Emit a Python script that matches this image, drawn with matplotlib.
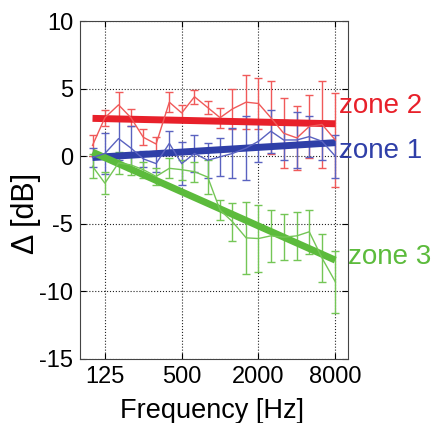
import numpy as np
import matplotlib
matplotlib.use('Agg')
from matplotlib import pyplot as plt
from matplotlib.ticker import FixedLocator, NullLocator

plt.rcParams['font.family'] = ['Liberation Sans', 'DejaVu Sans']
plt.rcParams['axes.unicode_minus'] = False

# 1/3 octave band centre frequencies
freq = [100, 125, 160, 200, 250, 315, 400, 500, 630, 800,
        1000, 1250, 1600, 2000, 2500, 3150, 4000, 5000, 6300, 8000]

# zone 1 (blue)
z1_mean = [-0.1, 0.2, 1.3, 0.6, -0.2, -0.55, 0.95, -0.55, 0.2, -0.3,
           -0.05, 0.2, 0.6, 1.1, 1.85, 1.2, 1.2, 1.45, 1.1, 0.0]
z1_err = [0.7, 1.5, 1.6, 1.6, 0.6, 0.6, 0.9, 1.6, 1.4, 1.3,
          1.4, 1.85, 2.4, 1.5, 1.6, 1.5, 2.1, 1.5, 1.4, 1.6]
# zone 2 (red)
z2_mean = [0.8, 2.85, 3.8, 2.85, 1.4, 0.9, 4.0, 3.2, 4.4, 3.6,
           2.85, 3.5, 4.0, 3.9, 2.85, 1.7, 1.35, 2.2, 2.35, 1.2]
z2_err = [0.8, 0.6, 0.95, 0.65, 0.6, 0.5, 0.75, 0.6, 0.5, 0.5,
          0.75, 1.5, 2.0, 1.9, 2.7, 2.6, 2.4, 2.3, 3.2, 3.5]
# zone 3 (green)
z3_mean = [-0.75, -2.0, -0.5, -0.65, -1.0, -1.5, -0.9, -1.0, -1.15, -1.55,
           -4.0, -4.85, -6.05, -6.1, -5.9, -6.0, -5.9, -5.6, -7.55, -9.3]
z3_err = [0.9, 0.8, 0.8, 0.75, 0.6, 0.6, 0.75, 0.75, 0.75, 1.25,
          0.75, 1.4, 2.65, 2.45, 1.95, 1.7, 1.8, 1.65, 1.8, 2.3]

# regression lines (value at 100 Hz and at 8000 Hz)
fit_freq = [100, 8000]
z1_fit = [-0.1, 1.0]
z2_fit = [2.8, 2.4]
z3_fit = [0.3, -7.7]

xticks = [125, 500, 2000, 8000]
yticks = [-15, -10, -5, 0, 5, 10]

fig = plt.figure(figsize=(4.38, 4.23), dpi=100)
ax = fig.add_axes([0.183, 0.152, 0.612, 0.798])

zones = [
    (z2_mean, z2_err, z2_fit, '#f05a5a', '#e8202a'),
    (z1_mean, z1_err, z1_fit, '#5a62c0', '#2f3fa8'),
    (z3_mean, z3_err, z3_fit, '#74c656', '#5cbb3c'),
]

for mean, err, fit, thin_c, thick_c in zones:
    ax.errorbar(freq, mean, yerr=err, color=thin_c, lw=1.0, elinewidth=1.0,
                capsize=3, capthick=1.0)
for mean, err, fit, thin_c, thick_c in zones:
    ax.plot(fit_freq, fit, color=thick_c, lw=5, solid_capstyle='butt')

ax.set_xscale('log')
ax.set_xlim(80, 10100)
ax.set_ylim(-15, 10)
ax.xaxis.set_major_locator(FixedLocator(xticks))
ax.xaxis.set_minor_locator(NullLocator())
ax.set_xticklabels([str(t) for t in xticks])
ax.set_yticks(yticks)
ax.grid(True, which='major', color='#222222', linestyle=':', linewidth=0.8)
ax.tick_params(direction='in', top=True, right=True, labelsize=17, length=4, pad=5)
for s in ax.spines.values():
    s.set_color('#444444')

ax.set_xlabel('Frequency [Hz]', fontsize=19.5)
ax.xaxis.set_label_coords(0.49, -0.115)
ax.set_ylabel('\u0394 [dB]', fontsize=22)
ax.yaxis.set_label_coords(-0.145, 0.43)

ytr = ax.get_yaxis_transform()
ax.text(0.965, 3.7, 'zone 2', transform=ytr, color='#e8202a',
        fontsize=20, va='center', ha='left', clip_on=False)
ax.text(0.965, 0.4, 'zone 1', transform=ytr, color='#2f3fa8',
        fontsize=20, va='center', ha='left', clip_on=False)
ax.text(1.0, -7.5, 'zone 3', transform=ytr, color='#5cbb3c',
        fontsize=20, va='center', ha='left', clip_on=False)

plt.savefig('out.png', dpi=100)
plt.close('all')
